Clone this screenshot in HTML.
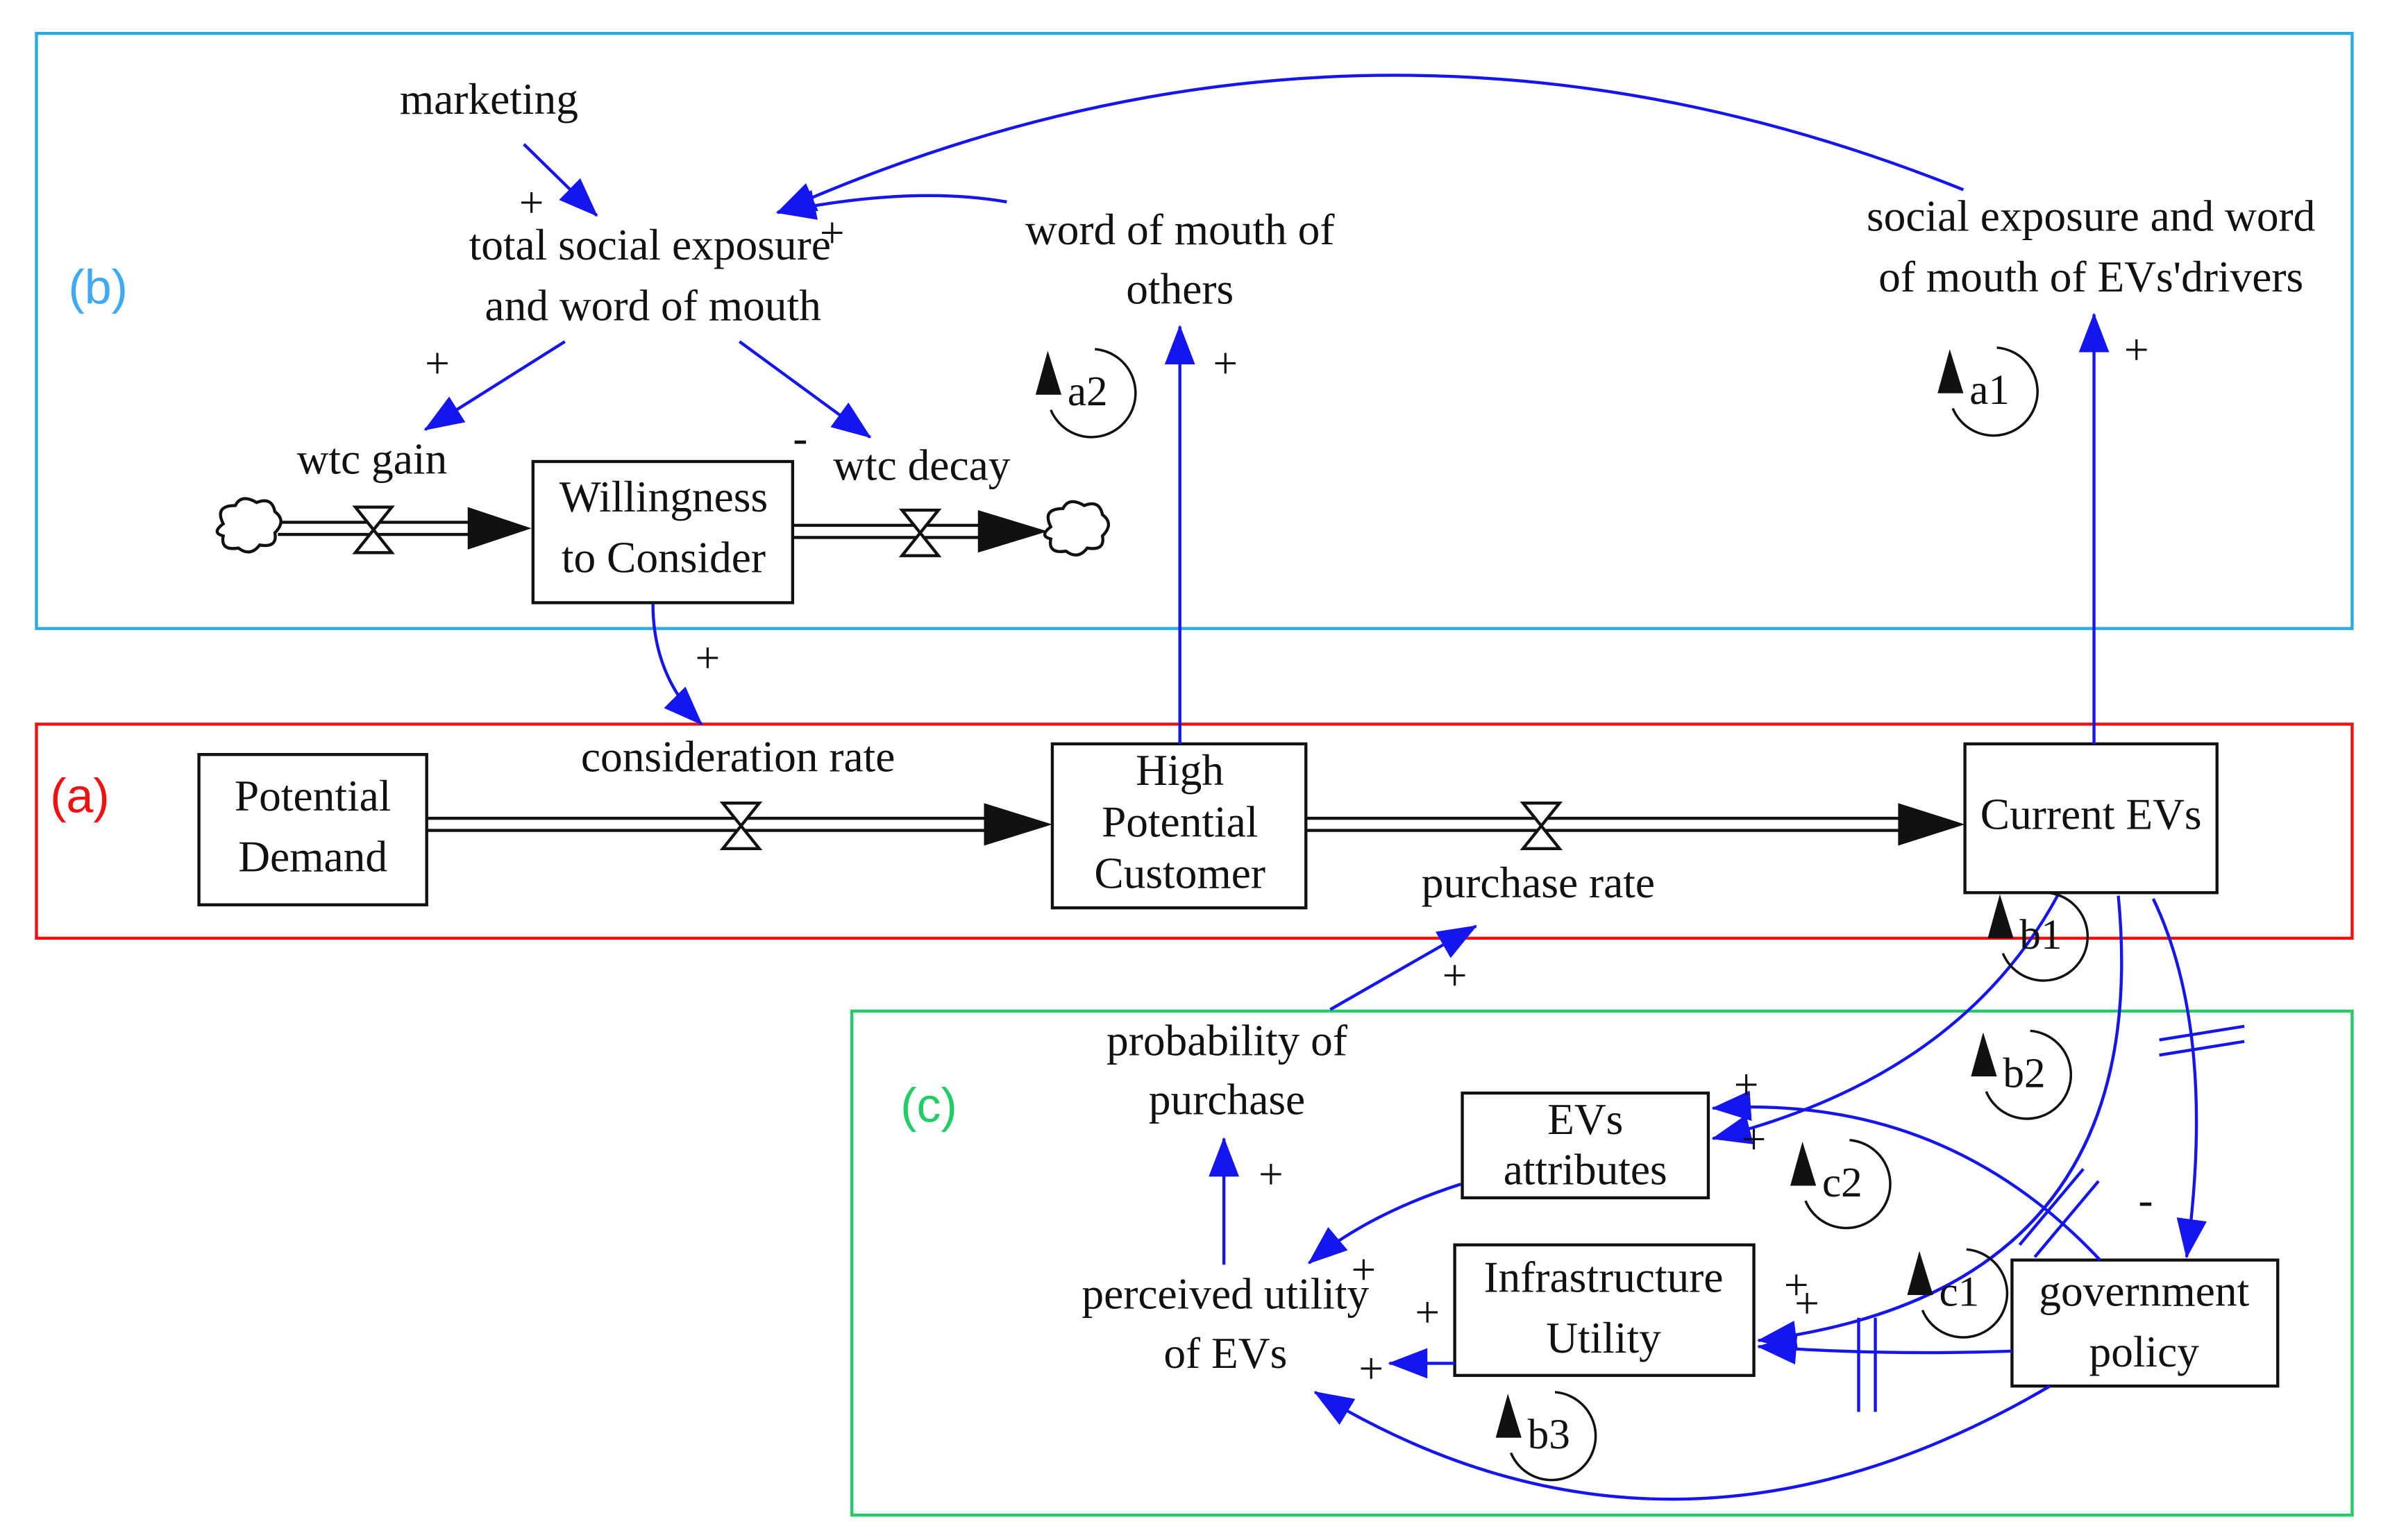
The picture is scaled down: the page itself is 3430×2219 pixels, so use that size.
<!DOCTYPE html>
<html><head><meta charset="utf-8"><style>
html,body{margin:0;padding:0;background:#fff;}
svg{display:block;}
text{font-family:"Liberation Serif",serif;font-size:29px;fill:#111;text-anchor:middle;}
text.s{font-family:"Liberation Sans",sans-serif;font-size:32px;text-anchor:start;}
text.l{text-anchor:start;font-size:28px;}
.b{stroke:#1515f0;stroke-width:2;fill:none;}
.box{fill:#fff;stroke:#111;stroke-width:2;}
</style></head><body>
<svg width="3430" height="2219" viewBox="0 0 1568 1014.4" preserveAspectRatio="none" xmlns="http://www.w3.org/2000/svg">
<defs>
<marker id="abig" markerWidth="26" markerHeight="20" refX="25" refY="10" orient="auto" markerUnits="userSpaceOnUse" viewBox="0 0 26 20"><path d="M0,0 L26,10 L0,20 Z" fill="#1515f0"/></marker>
</defs>
<rect width="1568" height="1014.4" fill="#fff"/>
<rect x="24" y="22" width="1525" height="392" fill="none" stroke="#29abe2" stroke-width="2"/>
<rect x="24" y="477" width="1525" height="141" fill="none" stroke="#f01010" stroke-width="2"/>
<rect x="561" y="666" width="988" height="332" fill="none" stroke="#22cc66" stroke-width="2"/>
<text class="s" x="45" y="200" style="fill:#3fa9f5">(b)</text>
<text class="s" x="33" y="535" style="fill:#f01010">(a)</text>
<text class="s" x="593" y="739" style="fill:#22cc66">(c)</text>

<g stroke="#111" stroke-width="2" fill="none">
<path d="M183,344 H310 M183,352 H310"/>
<path d="M522,346 H648 M522,354 H648"/>
<path d="M281,539 H650 M281,547 H650"/>
<path d="M860,539 H1252 M860,547 H1252"/>
</g>
<g fill="#111">
<path d="M308,334 L350,348 L308,362 Z"/>
<path d="M644,336 L690,350 L644,364 Z"/>
<path d="M648,529 L693,543 L648,557 Z"/>
<path d="M1250,529 L1294,543 L1250,557 Z"/>
</g>
<g stroke="#111" stroke-width="2" fill="#fff">
<path d="M234,334 L258,334 L234,364 L258,364 Z"/>
<path d="M594,336 L618,336 L594,366 L618,366 Z"/>
<path d="M476,529 L500,529 L476,559 L500,559 Z"/>
<path d="M1003,529 L1027,529 L1003,559 L1027,559 Z"/>
</g>
<g stroke="#111" stroke-width="2" fill="#fff">
<path d="M147,345 q-6,-12 8,-12 q4,-8 14,-2 q10,-4 12,6 q8,6 0,14 q2,10 -10,8 q-6,8 -14,2 q-12,2 -10,-8 q-8,-2 0,-8 Z"/>
<path d="M692,347 q-6,-12 8,-12 q4,-8 14,-2 q10,-4 12,6 q8,6 0,14 q2,10 -10,8 q-6,8 -14,2 q-12,2 -10,-8 q-8,-2 0,-8 Z"/>
</g>

<rect class="box" x="351" y="304" width="171" height="93"/>
<rect class="box" x="131" y="497" width="150" height="99"/>
<rect class="box" x="693" y="490" width="167" height="108"/>
<rect class="box" x="1294" y="490" width="166" height="98"/>
<rect class="box" x="963" y="720" width="162" height="69"/>
<rect class="box" x="958" y="820" width="197" height="86"/>
<rect class="box" x="1325" y="830" width="175" height="83"/>

<text x="437" y="337">Willingness</text><text x="437" y="377">to Consider</text>
<text x="206" y="534">Potential</text><text x="206" y="574">Demand</text>
<text x="777" y="517">High</text><text x="777" y="551">Potential</text><text x="777" y="585">Customer</text>
<text x="1377" y="546">Current EVs</text>
<text x="1044" y="747">EVs</text><text x="1044" y="780">attributes</text>
<text x="1056" y="851">Infrastructure</text><text x="1056" y="891">Utility</text>
<text x="1412" y="860">government</text><text x="1412" y="900">policy</text>

<text x="322" y="75">marketing</text>
<text x="428" y="171">total social exposure</text><text x="430" y="211">and word of mouth</text>
<text x="777" y="161">word of mouth of</text><text x="777" y="200">others</text>
<text x="1377" y="152">social exposure and word</text><text x="1377" y="192">of mouth of EVs'drivers</text>
<text x="245" y="312">wtc gain</text><text x="607" y="316">wtc decay</text>
<text x="486" y="508">consideration rate</text>
<text x="1013" y="591">purchase rate</text>
<text x="808" y="695">probability of</text><text x="808" y="734">purchase</text>
<text x="807" y="862">perceived utility</text><text x="807" y="901">of EVs</text>

<path class="b" d="M345,95 L393,142" marker-end="url(#abig)"/>
<path class="b" d="M663,133 Q600,122 512,140" marker-end="url(#abig)"/>
<path class="b" d="M1293,125 Q900,-33 512,140" marker-end="url(#abig)"/>
<path class="b" d="M372,225 L280,283" marker-end="url(#abig)"/>
<path class="b" d="M487,225 L573,288" marker-end="url(#abig)"/>
<path class="b" d="M430,398 Q430,445 462,477" marker-end="url(#abig)"/>
<path class="b" d="M777,490 L777,215" marker-end="url(#abig)"/>
<path class="b" d="M1379,490 L1379,207" marker-end="url(#abig)"/>
<path class="b" d="M876,665 L972,610" marker-end="url(#abig)"/>
<path class="b" d="M806,833 L806,750" marker-end="url(#abig)"/>
<path class="b" d="M962,780 Q900,800 862,832" marker-end="url(#abig)"/>
<path class="b" d="M958,898 L915,898" marker-end="url(#abig)"/>
<path class="b" d="M1350,913 Q1100,1060 866,917" marker-end="url(#abig)"/>
<path class="b" d="M1383,830 Q1280,720 1128,730" marker-end="url(#abig)"/>
<path class="b" d="M1355,590 Q1290,710 1128,750" marker-end="url(#abig)"/>
<path class="b" d="M1395,590 Q1420,850 1158,883" marker-end="url(#abig)"/>
<path class="b" d="M1325,890 Q1240,893 1158,887" marker-end="url(#abig)"/>
<path class="b" d="M1418,592 Q1460,680 1440,828" marker-end="url(#abig)"/>
<path class="b" d="M1224,868 V930 M1235,868 V930"/>
<path class="b" d="M1422,685 L1478,676 M1422,695 L1478,686"/>
<path class="b" d="M1330,820 L1372,770 M1340,828 L1382,778"/>

<g style="font-size:26px">
<text x="350" y="143">+</text><text x="548" y="163">+</text>
<text x="288" y="249">+</text><text x="527" y="298">-</text>
<text x="466" y="443">+</text>
<text x="807" y="249">+</text><text x="1407" y="240">+</text>
<text x="958" y="652">+</text><text x="837" y="783">+</text>
<text x="898" y="846">+</text><text x="940" y="874">+</text><text x="903" y="911">+</text>
<text x="1150" y="724">+</text><text x="1155" y="760">+</text>
<text x="1183" y="856">+</text><text x="1190" y="868">+</text>
<text x="1413" y="800">-</text>
</g>

<!-- loops: center (cx,cy) r=29 -->
<g stroke="#111" stroke-width="1.6" fill="none">
<path d="M721,230 A29,29 0 1 1 692,270"/>
<path d="M1315,229 A29,29 0 1 1 1286,269"/>
<path d="M1348,588 A29,29 0 1 1 1319,628"/>
<path d="M1337,679 A29,29 0 1 1 1308,719"/>
<path d="M1218,751 A29,29 0 1 1 1189,791"/>
<path d="M1295,823 A29,29 0 1 1 1266,863"/>
<path d="M1024,917 A29,29 0 1 1 995,957"/>
</g>
<g fill="#111">
<path d="M682,260 L690,231 L699,260 Z"/>
<path d="M1276,259 L1284,230 L1293,259 Z"/>
<path d="M1309,618 L1317,589 L1326,618 Z"/>
<path d="M1298,709 L1306,680 L1315,709 Z"/>
<path d="M1179,781 L1187,752 L1196,781 Z"/>
<path d="M1256,853 L1264,824 L1273,853 Z"/>
<path d="M985,947 L993,918 L1002,947 Z"/>
</g>
<text class="l" x="703" y="267">a2</text><text class="l" x="1297" y="266">a1</text>
<text class="l" x="1330" y="625">b1</text><text class="l" x="1319" y="716">b2</text>
<text class="l" x="1200" y="788">c2</text><text class="l" x="1277" y="860">c1</text>
<text class="l" x="1006" y="954">b3</text>
</svg>
</body></html>
